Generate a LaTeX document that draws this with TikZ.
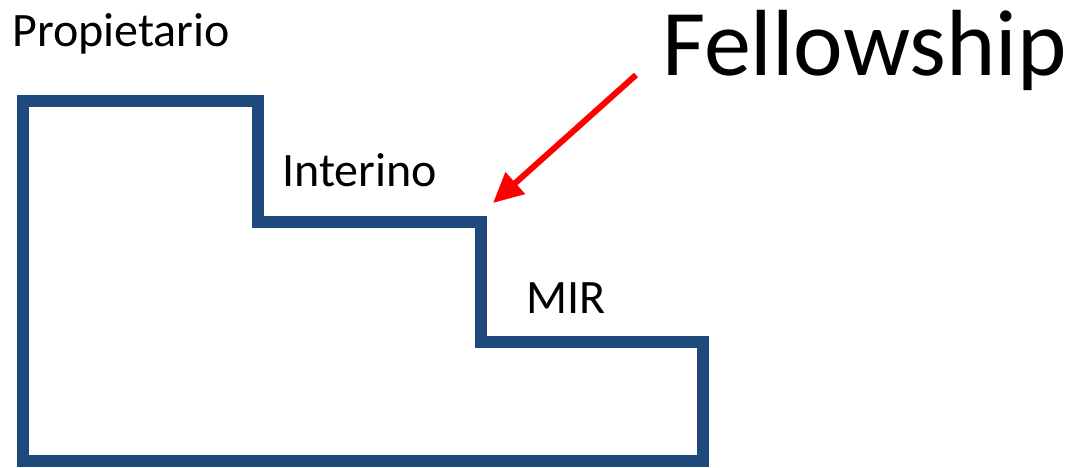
\documentclass[tikz,border=0pt]{standalone}
\usepackage{fontspec}
\setmainfont{Carlito}
\usetikzlibrary{arrows.meta}
\definecolor{stepblue}{RGB}{31,73,125}
\definecolor{arrowred}{RGB}{255,0,0}
\begin{document}
\begin{tikzpicture}[x=1pt,y=-1pt,
  label text/.style={anchor=base west,inner sep=0pt,font=\fontsize{48}{55}\selectfont},
  big text/.style={anchor=base west,inner sep=0pt,font=\fontsize{94}{100}\selectfont},
  stair/.style={draw=stepblue,line width=12pt,line join=miter},
  pointer/.style={draw=arrowred,line width=6pt,-{Triangle[length=30pt,width=28pt]}}]
\useasboundingbox (0,0) rectangle (1072,467);
\draw[stair] (23,101) -- (258,101) -- (258,222) -- (481,222) -- (481,342) -- (703,342) -- (703,461) -- (23,461) -- cycle;
\node[label text] (prop) at (12,46.5) {Propietario};
\node[label text] (inter) at (282,186) {Interino};
\node[label text] (mir) at (526,313) {MIR};
\node[big text] (fell) at (662,75) {Fellowship};
\coordinate (from) at (636,75);
\coordinate (to) at (493,203);
\draw[pointer] (from) -- (to);
\end{tikzpicture}
\end{document}
